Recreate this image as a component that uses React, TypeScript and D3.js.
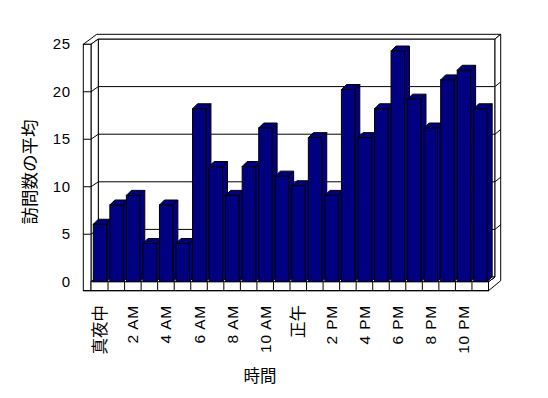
import React from "react";
import * as d3 from "d3";

const hours = ["0","1","2","3","4","5","6","7","8","9","10","11","12","13","14","15","16","17","18","19","20","21","22","23"];
const visits = [6, 8, 9, 4, 8, 4, 18, 12, 9, 12, 16, 11, 10, 15, 9, 20, 15, 18, 24, 19, 16, 21, 22, 18];
const hourLabels = ["真夜中", "2 AM", "4 AM", "6 AM", "8 AM", "10 AM", "正午", "2 PM", "4 PM", "6 PM", "8 PM", "10 PM"];
const yTicks = [0, 5, 10, 15, 20, 25];
const yTitle = "訪問数の平均";
const xTitle = "時間";

const W = 548, H = 398;
const L0 = 83.3, L1 = 91, L2 = 98.3;
const R0 = 488.5, R1 = 495, R2 = 500.7;
const TOPF = 44.3, TOPB = 39, TOPBB = 34.3;
const FLOORT = 281.7, FLOORB = 290.7, BACKBOT = 277;
const NAVY = "#000080";
const FONT = "'Liberation Sans', Arial, 'Noto Sans CJK JP', sans-serif";

export default function App() {
  const yMax = 25;
  const yBack = d3.scaleLinear().domain([0, yMax]).range([BACKBOT, TOPB]);
  const yFront = d3.scaleLinear().domain([0, yMax]).range([FLOORT, TOPF]);
  const yBar = d3.scaleLinear().domain([0, yMax]).range([282, 41.4]);
  const x = d3.scaleBand().domain(hours).range([91.5, R0]).paddingInner(0).paddingOuter(0);
  const step = x.step();
  const barOff = 1.8, barW = 13.4, dx = 5, dy = -5;
  const grid = yTicks.filter((t) => t > 0 && t < yMax);
  const pts = (a: number[][]) => a.map((p) => p.join(",")).join(" ");

  return (
    <svg width={W} height={H} style={{ position: "absolute", left: 0, top: 0, background: "#fff" }}>
      <g stroke="#000" strokeWidth={1} fill="#fff">
        <rect x={L2} y={TOPB} width={R1 - L2} height={BACKBOT - TOPB} />
        <polygon points={pts([[L0, TOPF], [L1, TOPF], [L2, TOPB], [R1, TOPB], [R2, TOPBB], [96.7, TOPBB]])} />
        <polygon points={pts([[R1, TOPB], [R2, TOPBB], [R2, 280.7], [R0, FLOORB], [R0, FLOORT], [R1, BACKBOT]])} />
        <line x1={R0} y1={FLOORT} x2={R1} y2={BACKBOT} />
        <polygon points={pts([[L1, TOPF], [L2, TOPB], [L2, BACKBOT], [L1, FLOORT]])} />
        <rect x={L0} y={TOPF} width={L1 - L0} height={FLOORB - TOPF} />
        <polygon points={pts([[L1, FLOORT], [L2, BACKBOT], [R1, BACKBOT], [R0, FLOORT]])} />
        <rect x={L1} y={FLOORT} width={R0 - L1} height={FLOORB - FLOORT} />
        <line x1={L0} y1={FLOORB} x2={R0} y2={FLOORB} />
      </g>
      <g stroke="#000" strokeWidth={1} fill="none">
        {grid.map((t) => (
          <g key={t}>
            <line x1={L2} x2={R1} y1={yBack(t)} y2={yBack(t)} />
            <line x1={R1} x2={R2} y1={yBack(t)} y2={yBack(t) - 4.7} />
            <line x1={L1} x2={L2} y1={yFront(t)} y2={yBack(t)} />
            <line x1={L0} x2={L1} y1={yFront(t)} y2={yFront(t)} />
          </g>
        ))}
        {hours.slice(1).map((h) => (
          <line key={h} x1={x(h)!} x2={x(h)!} y1={FLOORT} y2={FLOORB} />
        ))}
      </g>
      <g stroke="#000" strokeWidth={1} fill={NAVY} strokeLinejoin="miter">
        {hours.map((h, i) => {
          const x0 = x(h)! + barOff;
          const x1 = x0 + barW;
          const yt = yBar(visits[i]);
          const yb = FLOORT;
          return (
            <g key={h}>
              <polygon points={pts([[x1, yt], [x1 + dx, yt + dy], [x1 + dx, yb + dy], [x1, yb]])} />
              <polygon points={pts([[x0, yt], [x0 + dx, yt + dy], [x1 + dx, yt + dy], [x1, yt]])} />
              <rect x={x0} y={yt} width={barW} height={yb - yt} />
            </g>
          );
        })}
      </g>
      <g fontFamily={FONT} fontSize={15} fill="#000">
        {yTicks.map((t) => (
          <text key={t} x={71} y={yFront(t) - 0.5} textAnchor="end" dominantBaseline="central" letterSpacing={0.8}>
            {t}
          </text>
        ))}
        {hourLabels.map((lab, k) => {
          const h = hours[k * 2];
          const cx = x(h)! + step / 2;
          const cjk = /[^\x00-\x7F]/.test(lab);
          return (
            <text
              key={lab}
              transform={`translate(${cx},305) rotate(-90)`}
              textAnchor="end"
              dominantBaseline="central"
              fontSize={cjk ? 16.5 : 15.5}
              letterSpacing={cjk ? 0 : 0.8}
            >
              {lab}
            </text>
          );
        })}
        <text transform="translate(30,172) rotate(-90)" textAnchor="middle" dominantBaseline="central" fontSize={17.5}>
          {yTitle}
        </text>
        <text x={260} y={375.5} textAnchor="middle" dominantBaseline="central" fontSize={16.5}>
          {xTitle}
        </text>
      </g>
    </svg>
  );
}
